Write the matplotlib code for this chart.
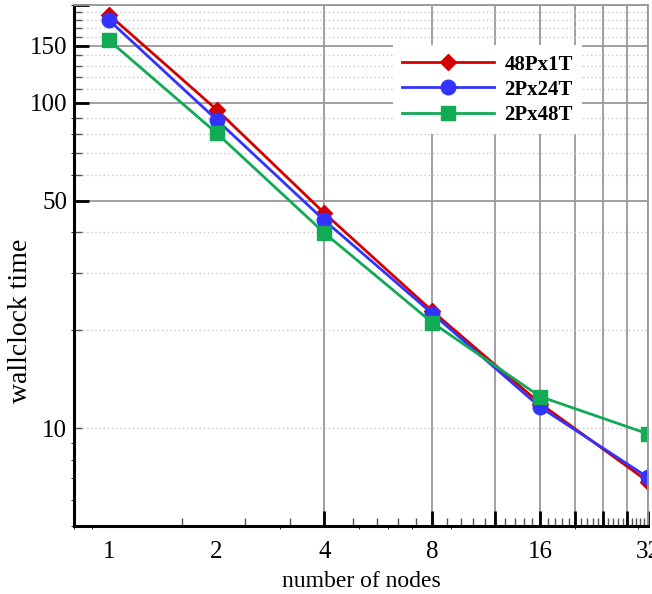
import numpy as np
import matplotlib
matplotlib.use("Agg")
import matplotlib.pyplot as plt
from matplotlib.ticker import FixedLocator, NullFormatter

nodes = [1, 2, 4, 8, 16, 32]
time_48p1t = [187, 95.4, 45.8, 22.9, 11.9, 6.85]
time_2p24t = [180, 88.8, 43.5, 22.5, 11.6, 7.05]
time_2p48t = [156, 80.8, 39.8, 21.1, 12.5, 9.6]

xlabels = ["1", "2", "4", "8", "16", "32"]
ylabel_vals = [10, 50, 100, 150]


def main():
    plt.rcParams['font.family'] = ['Liberation Serif', 'DejaVu Serif']
    fig = plt.figure(figsize=(6.52, 5.94), dpi=100)
    ax = fig.add_axes([0.1135, 0.1145, 0.8804, 0.877])

    ax.plot(nodes, time_48p1t, color='#d40000', lw=2, marker='D', ms=8, label='48Px1T')
    ax.plot(nodes, time_2p24t, color='#3333ff', lw=2, marker='o', ms=10.5, label='2Px24T')
    ax.plot(nodes, time_2p48t, color='#11aa55', lw=2, marker='s', ms=9.5, label='2Px48T')

    ax.set_xscale('log')
    ax.set_yscale('log')
    ax.set_xlim(0.8, 32)
    ax.set_ylim(5, 200)

    # tick marks: majors every 4, minors every 0.8 (x); majors every 50, minors every 10 (y)
    xmaj = np.arange(4, 33, 4)
    xmin = [v for v in np.arange(0.8, 32, 0.8) if abs(v / 4 - round(v / 4)) > 1e-6]
    ax.xaxis.set_major_locator(FixedLocator(xmaj))
    ax.xaxis.set_minor_locator(FixedLocator(xmin))
    ax.yaxis.set_major_locator(FixedLocator([50, 100, 150, 200]))
    ax.yaxis.set_minor_locator(FixedLocator([v for v in range(10, 200, 10) if v % 50 != 0]))
    for axis in (ax.xaxis, ax.yaxis):
        axis.set_major_formatter(NullFormatter())
        axis.set_minor_formatter(NullFormatter())
    ax.tick_params(which='major', direction='in', length=11, width=2, color='black')
    ax.tick_params(which='minor', direction='in', length=6, width=1, color='#555555')
    ax.tick_params(top=False, right=False)

    ax.grid(True, which='major', axis='both', color='#999999', lw=1.3, ls='-')
    ax.grid(True, which='minor', axis='y', color='#c8c8c8', lw=1, ls=(0, (1, 2)))
    ax.set_axisbelow(True)

    for s in ('left', 'bottom'):
        ax.spines[s].set_linewidth(2.2)
        ax.spines[s].set_color('black')
    for s in ('top', 'right'):
        ax.spines[s].set_linewidth(1.3)
        ax.spines[s].set_color('#999999')

    # labels sit at the data values, not at the tick marks
    secx = ax.secondary_xaxis('bottom')
    secx.set_xticks(nodes, xlabels)
    secx.tick_params(length=0, pad=11, labelsize=18)
    secx.spines['bottom'].set_visible(False)

    secy = ax.secondary_yaxis('left')
    secy.set_yticks(ylabel_vals, [str(v) for v in ylabel_vals])
    secy.tick_params(length=0, pad=5, labelsize=18)
    secy.spines['left'].set_visible(False)

    ax.set_xlabel('number of nodes', fontsize=17)
    ax.xaxis.set_label_coords(0.5, -0.086)
    ax.set_ylabel('wallclock time', fontsize=20)
    ax.yaxis.set_label_coords(-0.072, 0.393)

    ax.legend(loc='upper left', bbox_to_anchor=(0.5557, 0.923), borderaxespad=0,
              frameon=True, fancybox=False, edgecolor='none', framealpha=1,
              prop={'weight': 'bold', 'size': 15}, handlelength=4.4,
              handletextpad=0.5, labelspacing=0.25, borderpad=0.45)

    fig.savefig('out.png', dpi=100)


if __name__ == "__main__":
    main()
